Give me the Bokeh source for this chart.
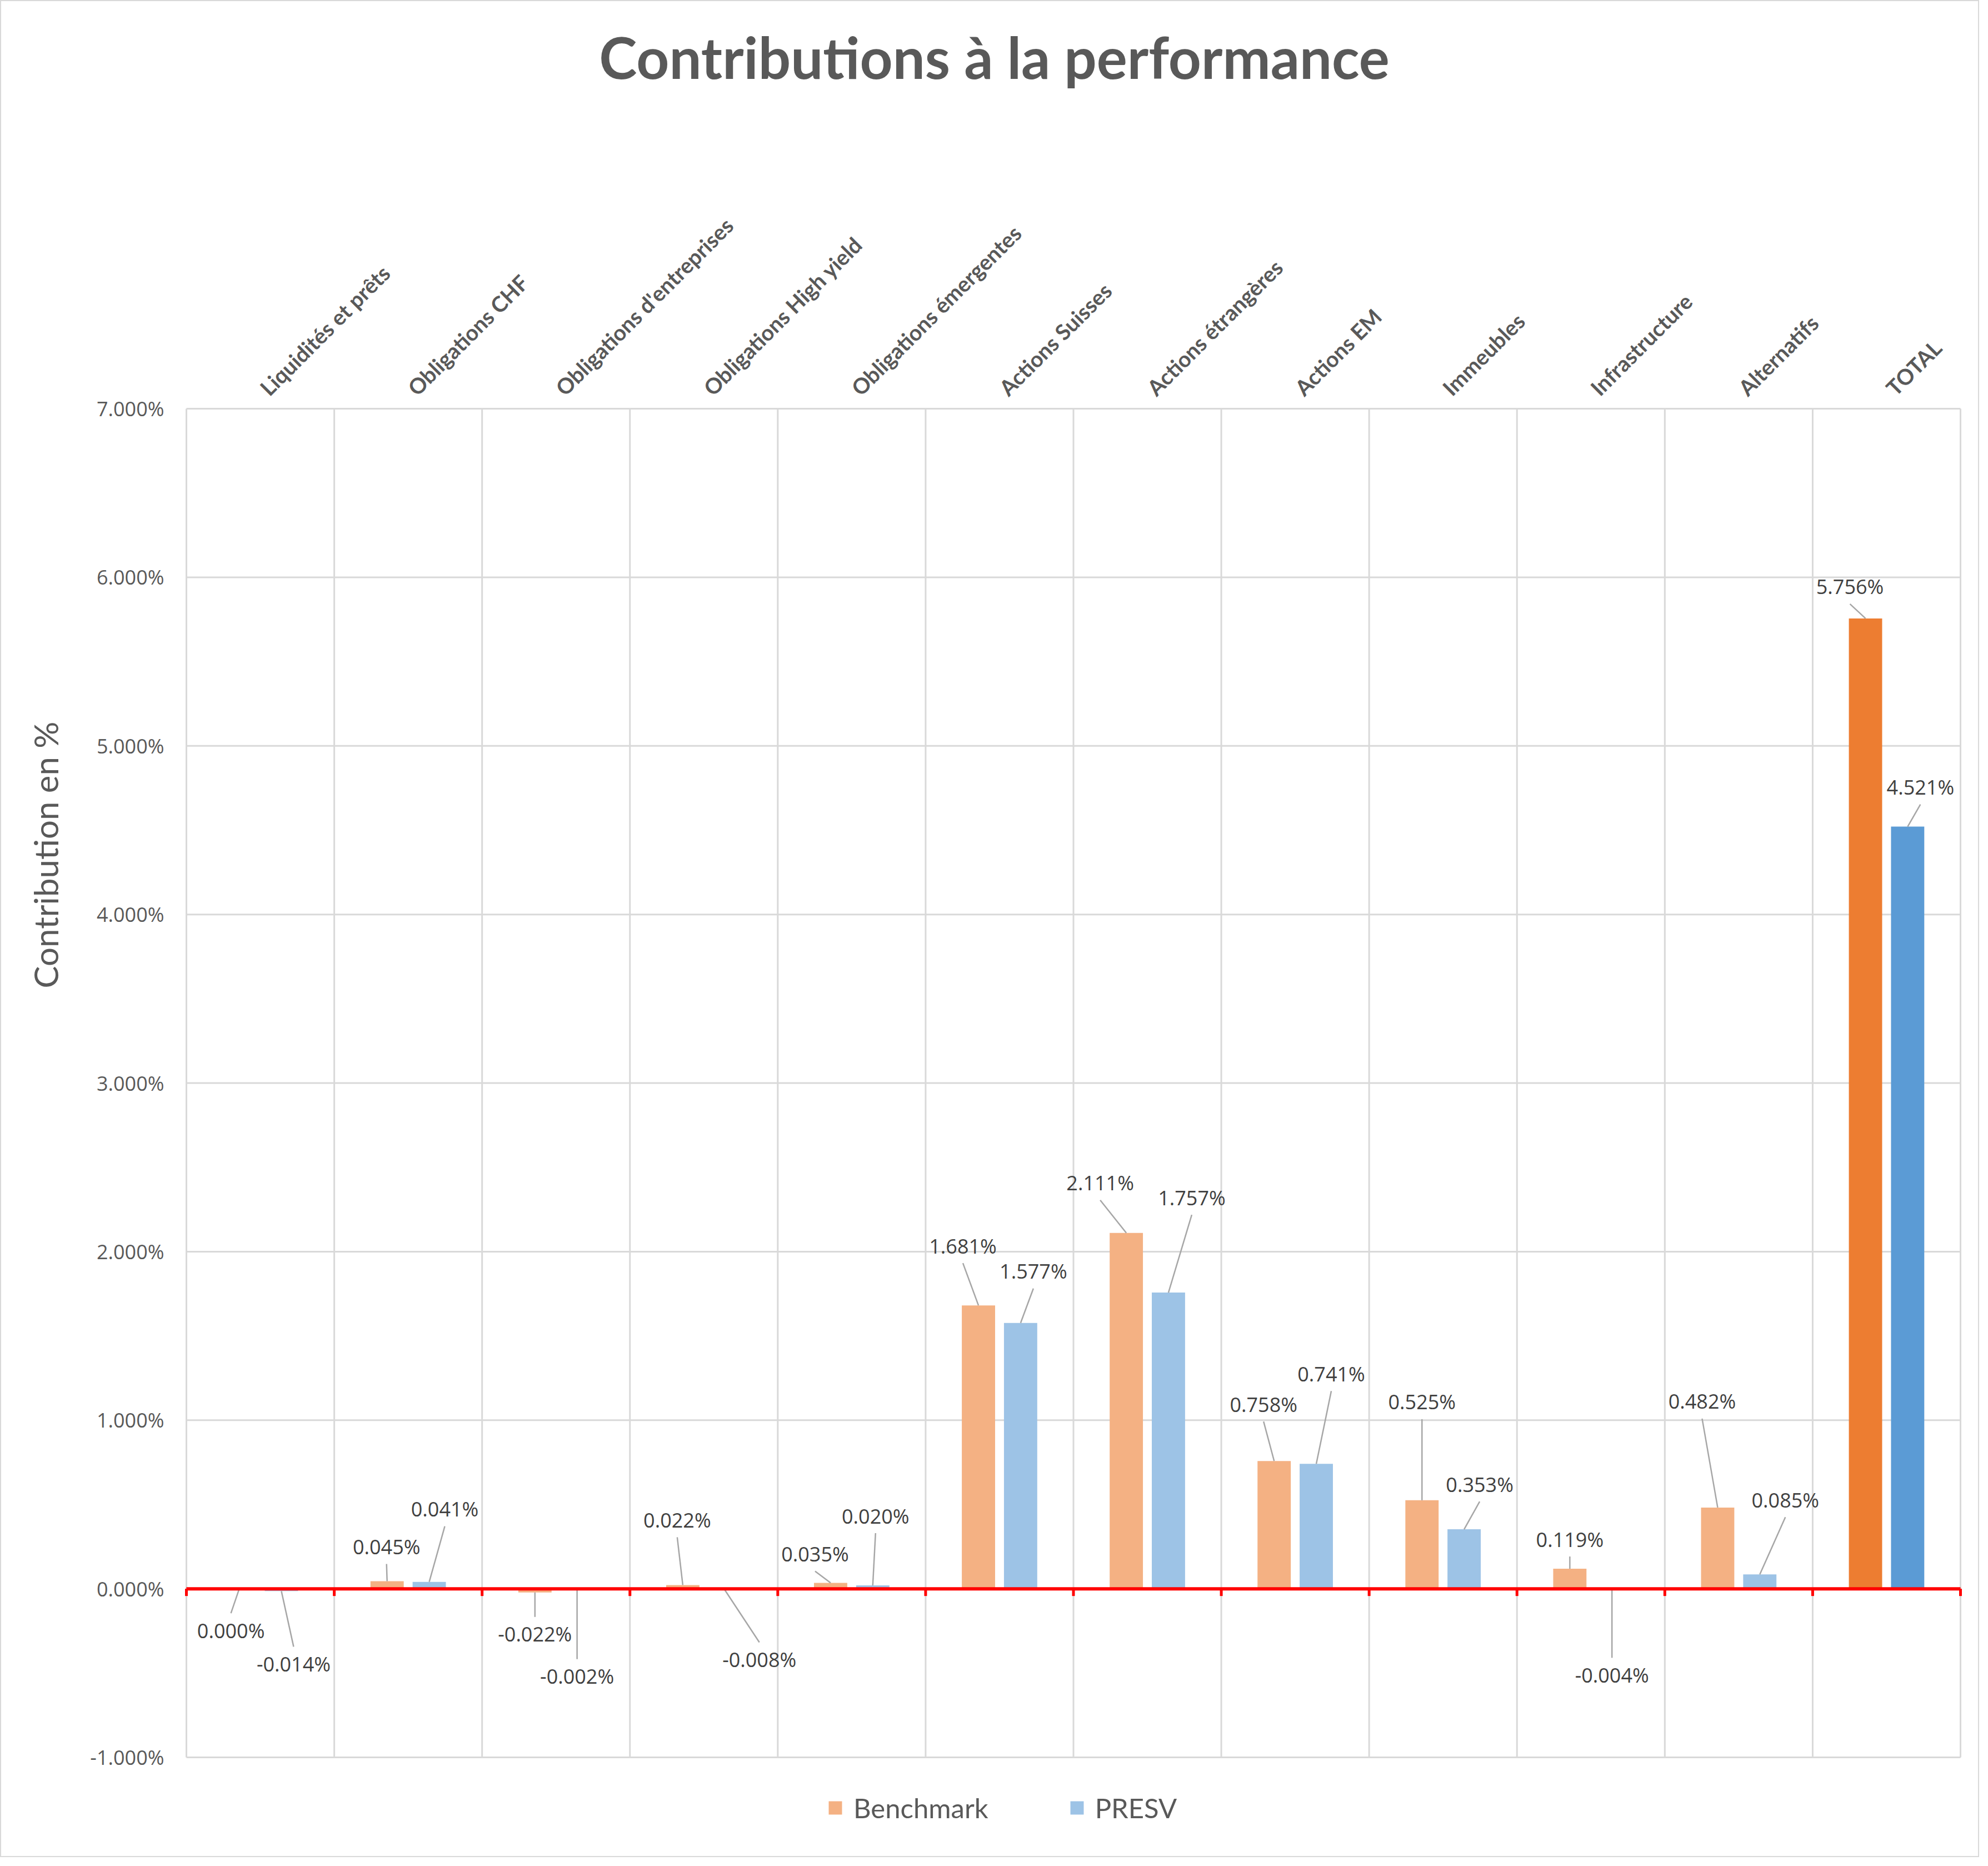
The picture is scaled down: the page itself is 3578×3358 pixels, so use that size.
import math

from bokeh.core.properties import value
from bokeh.embed import file_html
from bokeh.models import ColumnDataSource, Label, Legend, LegendItem
from bokeh.plotting import figure
from bokeh.resources import INLINE

categories = [
    "Liquidités et prêts",
    "Obligations CHF",
    "Obligations d'entreprises",
    "Obligations High yield",
    "Obligations émergentes",
    "Actions Suisses",
    "Actions étrangères",
    "Actions EM",
    "Immeubles",
    "Infrastructure",
    "Alternatifs",
    "TOTAL",
]
benchmark = [0.000, 0.045, -0.022, 0.022, 0.035, 1.681, 2.111, 0.758, 0.525, 0.119, 0.482, 5.756]
presv = [-0.014, 0.041, -0.002, -0.008, 0.020, 1.577, 1.757, 0.741, 0.353, -0.004, 0.085, 4.521]
y_ticks = [-1, 0, 1, 2, 3, 4, 5, 6, 7]

# where each data label sits, in pixels from the end of its bar (right, down)
bench_label_dx = [-15, -1, 0, -10, -28, -28, -47, -19, 0, 0, -28, -28]
bench_label_dy = [75, -62, 75, -117, -52, -107, -90, -102, -177, -53, -191, -57]
presv_label_dx = [22, 28, 0, 62, 5, 23, 42, 27, 28, 0, 46, 23]
presv_label_dy = [131, -131, 157, 125, -125, -93, -171, -162, -81, 154, -134, -71]

# geometry in pixels; the frame covers the whole figure and the gridded area sits inside it
W, H = 3562, 3342
PLOT_L, PLOT_R, PLOT_T, PLOT_B = 335, 3528, 735, 3162  # gridded area, -1% .. 7%
N = len(categories)
PX_PER_CAT = (PLOT_R - PLOT_L) / N
PX_PER_PCT = (PLOT_B - PLOT_T) / (y_ticks[-1] - y_ticks[0])
X_START = -PLOT_L / PX_PER_CAT
X_END = N + (W - PLOT_R) / PX_PER_CAT
Y_START = y_ticks[0] - (H - PLOT_B) / PX_PER_PCT
Y_END = y_ticks[-1] + PLOT_T / PX_PER_PCT
BAR_SHIFT = 0.1425
BAR_WIDTH = 0.225
LEADER_GAP = 31  # px between label centre and end of its leader line

GREY = "#595959"
DARK = "#404040"
GRID = "#d9d9d9"


def px_x(px):
    return px / PX_PER_CAT


def px_y(px):
    return px / PX_PER_PCT


def series_sources(values, shift, dxs, dys, color, total_color):
    xs = [i + 0.5 + shift for i in range(N)]
    colors = [color] * (N - 1) + [total_color]
    bars_regular = ColumnDataSource(dict(x=xs[:-1], top=values[:-1], color=colors[:-1]))
    bars_total = ColumnDataSource(dict(x=xs[-1:], top=values[-1:], color=colors[-1:]))
    lx, ly, ey, txt = [], [], [], []
    gap = px_y(LEADER_GAP)
    for x, v, dx, dy in zip(xs, values, dxs, dys):
        tx = x + px_x(dx)
        ty = v - px_y(dy)
        lx.append(tx)
        ly.append(ty)
        ey.append(ty + gap if dy > 0 else ty - gap)
        txt.append(f"{v:.3f}%")
    labels = ColumnDataSource(dict(x0=xs, y0=values, x=lx, y=ly, ey=ey, text=txt))
    return bars_regular, bars_total, labels


p = figure(
    width=W,
    height=H,
    x_range=(X_START, X_END),
    y_range=(Y_START, Y_END),
    x_axis_location=None,
    y_axis_location=None,
    title=None,
    output_backend="svg",
    toolbar_location=None,
    min_border=0,
    background_fill_color="white",
    border_fill_color="white",
)
p.grid.visible = False
p.outline_line_color = GRID
p.outline_line_width = 3

# grid over the -1% .. 7% band
bounds = list(range(N + 1))
p.segment(x0=bounds, y0=[y_ticks[0]] * len(bounds), x1=bounds, y1=[y_ticks[-1]] * len(bounds),
          line_color=GRID, line_width=3)
p.segment(x0=[0] * len(y_ticks), y0=y_ticks, x1=[N] * len(y_ticks), y1=y_ticks,
          line_color=GRID, line_width=3)

# value axis tick labels
p.text(x=[-px_x(40)] * len(y_ticks), y=y_ticks, text=[f"{t:.3f}%" for t in y_ticks],
       text_font=value("Open Sans"), text_font_size="36px", text_color=GREY,
       text_align="right", text_baseline="middle")

# category labels, slanted, on top of the grid
centers = [i + 0.5 for i in range(N)]
p.text(x=[c + px_x(6) for c in centers], y=[y_ticks[-1] + px_y(31)] * N, text=categories,
       angle=math.pi / 4, text_font=value("Lato"), text_font_style="bold",
       text_font_size="39px", text_color=GREY, text_align="left", text_baseline="middle")

# bars
renderers = {}
for name, vals, shift, dxs, dys, col, tot_col in [
    ("Benchmark", benchmark, -BAR_SHIFT, bench_label_dx, bench_label_dy, "#F4B183", "#ED7D31"),
    ("PRESV", presv, BAR_SHIFT, presv_label_dx, presv_label_dy, "#9DC3E6", "#5B9BD5"),
]:
    reg, tot, lab = series_sources(vals, shift, dxs, dys, col, tot_col)
    renderers[name] = p.vbar(x="x", top="top", bottom=0, width=BAR_WIDTH, source=reg,
                             fill_color="color", line_color=None)
    p.vbar(x="x", top="top", bottom=0, width=BAR_WIDTH, source=tot,
           fill_color="color", line_color=None)
    p.segment(x0="x0", y0="y0", x1="x", y1="ey", source=lab, line_color="#a6a6a6", line_width=2.5)
    p.text(x="x", y="y", text="text", source=lab, text_font=value("Open Sans"),
           text_font_size="36px", text_color=DARK, text_align="center", text_baseline="middle")

# red category axis line at zero with its tick marks
tick_len = px_y(13)
p.segment(x0=bounds, y0=[0] * len(bounds), x1=bounds, y1=[-tick_len] * len(bounds),
          line_color="#ff0000", line_width=5)
p.segment(x0=[0], y0=[0], x1=[N], y1=[0], line_color="#ff0000", line_width=6)

p.add_layout(Label(
    x=1789, y=H - 101, x_units="screen", y_units="screen",
    text="Contributions à la performance", text_font="Lato", text_font_style="bold",
    text_font_size="103px", text_color=GREY, text_align="center", text_baseline="alphabetic",
))
p.add_layout(Label(
    x=81, y=H - 1538, x_units="screen", y_units="screen", angle=math.pi / 2,
    text="Contribution en %", text_font="Lato", text_font_size="60px", text_color=GREY,
    text_align="center", text_baseline="alphabetic",
))

legend = Legend(
    items=[LegendItem(label="Benchmark", renderers=[renderers["Benchmark"]]),
           LegendItem(label="PRESV", renderers=[renderers["PRESV"]])],
    location=(1488, 60),
    orientation="horizontal",
    label_text_font="Lato",
    label_text_font_size="49px",
    label_text_color=GREY,
    glyph_width=30,
    glyph_height=30,
    label_standoff=18,
    spacing=144,
    padding=0,
    margin=0,
    border_line_color=None,
    background_fill_alpha=0,
)
p.add_layout(legend)

open("out.html", "w").write(file_html(p, INLINE))
